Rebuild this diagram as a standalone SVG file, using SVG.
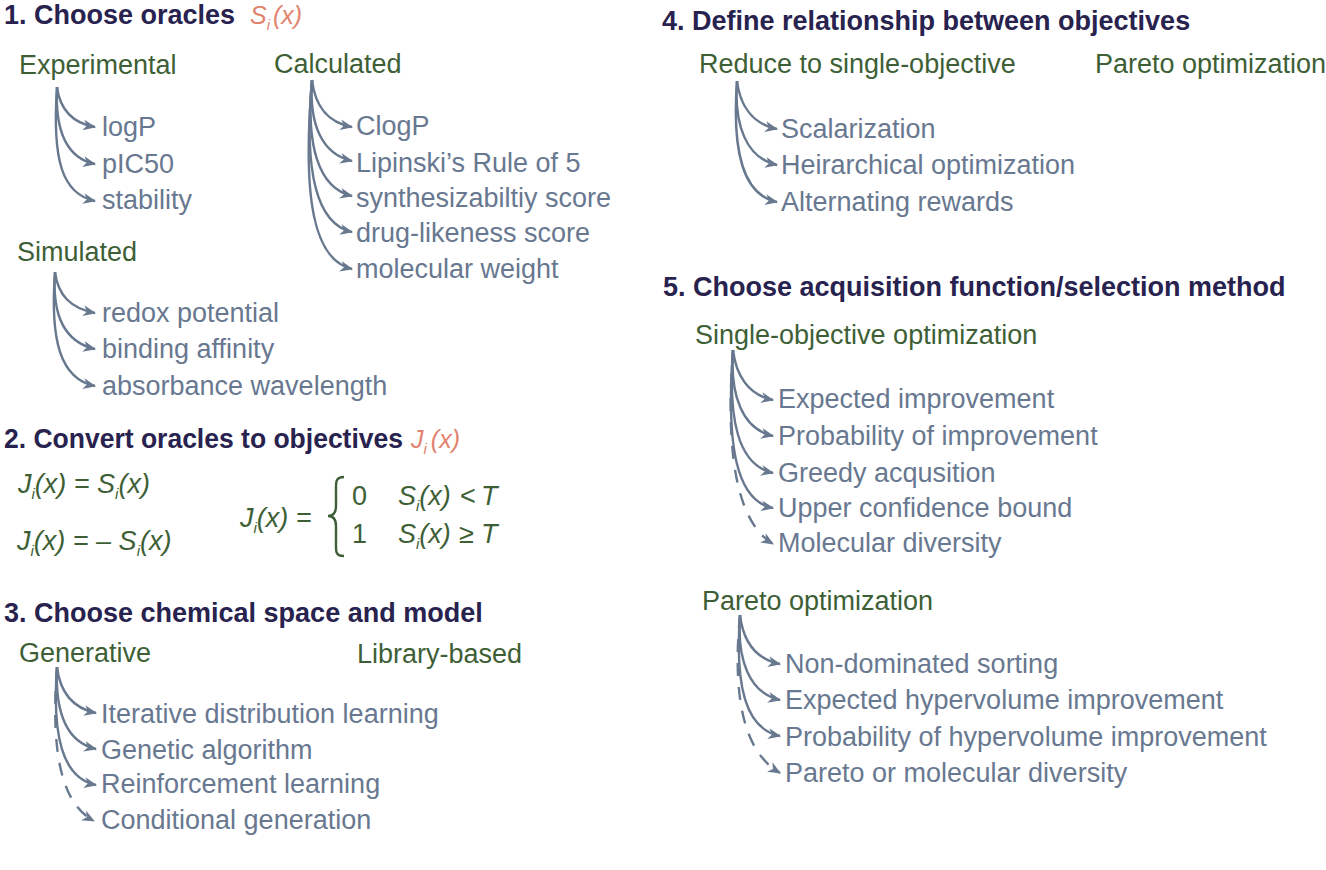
<svg xmlns="http://www.w3.org/2000/svg" width="1326" height="870" viewBox="0 0 1326 870">
<style>
text{font-family:"Liberation Sans",Arial,sans-serif;}
.h{font-size:27px;font-weight:bold;fill:#28224f;}
.g{font-size:27px;fill:#3e5f36;}
.it{font-size:27px;fill:#687890;}
.o{font-size:25px;font-style:italic;fill:#e2836e;}
.f{font-size:27px;font-style:italic;fill:#3e5f36;}
.fu{font-size:27px;fill:#3e5f36;}
.sub{font-size:15px;}
.c{fill:none;stroke:#68788f;stroke-width:2.4;marker-end:url(#ah);}
.d{stroke-dasharray:13 11;}
</style>
<defs>
<marker id="ah" viewBox="0 0 12 10" refX="11" refY="5" markerWidth="13" markerHeight="11" markerUnits="userSpaceOnUse" orient="auto">
<path d="M0,0 L12,5 L0,10 L3.5,5 Z" fill="#68788f"/>
</marker>
</defs>
<rect width="1326" height="870" fill="#ffffff"/>

<g id="sec1">
<text class="h" x="4" y="24">1. Choose oracles</text>
<text class="o" x="250" y="24">S<tspan class="sub" dy="6">i</tspan><tspan dy="-6" dx="3">(x)</tspan></text>
</g>
<g id="experimental">
<text class="g" x="19" y="74">Experimental</text>
<text class="it" x="102" y="136">logP</text>
<text class="it" x="102" y="173">pIC50</text>
<text class="it" x="102" y="209">stability</text>
</g>
<g id="calculated">
<text class="g" x="274" y="73">Calculated</text>
<text class="it" x="356" y="135">ClogP</text>
<text class="it" x="356" y="172">Lipinski’s Rule of 5</text>
<text class="it" x="356" y="207">synthesizabiltiy score</text>
<text class="it" x="356" y="242">drug-likeness score</text>
<text class="it" x="356" y="278">molecular weight</text>
</g>
<g id="simulated">
<text class="g" x="17" y="261">Simulated</text>
<text class="it" x="102" y="322">redox potential</text>
<text class="it" x="102" y="358">binding affinity</text>
<text class="it" x="102" y="395">absorbance wavelength</text>
</g>

<g id="sec2">
<text class="h" x="4" y="448" textLength="399" lengthAdjust="spacingAndGlyphs">2. Convert oracles to objectives</text>
<text class="o" x="411" y="448">J<tspan class="sub" dy="6">i</tspan><tspan dy="-6" dx="4">(x)</tspan></text>
</g>
<g id="formulas">
<text class="f" x="18" y="493">J<tspan class="sub" dy="6">i</tspan><tspan dy="-6">(x) = S</tspan><tspan class="sub" dy="6">i</tspan><tspan dy="-6">(x)</tspan></text>
<text class="f" x="17" y="550">J<tspan class="sub" dy="6">i</tspan><tspan dy="-6">(x) = – S</tspan><tspan class="sub" dy="6">i</tspan><tspan dy="-6">(x)</tspan></text>
<text class="f" x="240" y="527">J<tspan class="sub" dy="6">i</tspan><tspan dy="-6">(x) =</tspan></text>
<path d="M344,477 C335,477 336,483 336,491 L336,506 C336,512 334,516 328,516 C334,516 336,520 336,526 L336,543 C336,551 335,556 344,556" fill="none" stroke="#3e5f36" stroke-width="2.4"/>
<text class="fu" x="352" y="505">0</text>
<text class="f" x="398" y="505">S<tspan class="sub" dy="6">i</tspan><tspan dy="-6">(x)</tspan></text>
<text class="fu" x="460" y="505">&lt;</text>
<text class="f" x="481" y="505">T</text>
<text class="fu" x="352" y="543">1</text>
<text class="f" x="398" y="543">S<tspan class="sub" dy="6">i</tspan><tspan dy="-6">(x)</tspan></text>
<text class="fu" x="459" y="543">≥</text>
<text class="f" x="481" y="543">T</text>
</g>

<g id="sec3">
<text class="h" x="4" y="622">3. Choose chemical space and model</text>
</g>
<g id="generative">
<text class="g" x="19" y="662">Generative</text>
<text class="it" x="101" y="723">Iterative distribution learning</text>
<text class="it" x="101" y="759">Genetic algorithm</text>
<text class="it" x="101" y="793">Reinforcement learning</text>
<text class="it" x="101" y="829">Conditional generation</text>
</g>
<g id="library">
<text class="g" x="357" y="663">Library-based</text>
</g>

<g id="sec4">
<text class="h" x="662" y="30">4. Define relationship between objectives</text>
</g>
<g id="reduce">
<text class="g" x="699" y="73">Reduce to single-objective</text>
<text class="it" x="781" y="138">Scalarization</text>
<text class="it" x="781" y="174">Heirarchical optimization</text>
<text class="it" x="781" y="211">Alternating rewards</text>
</g>
<g id="pareto4">
<text class="g" x="1095" y="73">Pareto optimization</text>
</g>

<g id="sec5">
<text class="h" x="663" y="296">5. Choose acquisition function/selection method</text>
</g>
<g id="single">
<text class="g" x="695" y="344">Single-objective optimization</text>
<text class="it" x="778" y="408">Expected improvement</text>
<text class="it" x="778" y="445">Probability of improvement</text>
<text class="it" x="778" y="482">Greedy acqusition</text>
<text class="it" x="778" y="517">Upper confidence bound</text>
<text class="it" x="778" y="552">Molecular diversity</text>
</g>
<g id="pareto5">
<text class="g" x="702" y="610">Pareto optimization</text>
<text class="it" x="785" y="673">Non-dominated sorting</text>
<text class="it" x="785" y="709">Expected hypervolume improvement</text>
<text class="it" x="785" y="746">Probability of hypervolume improvement</text>
<text class="it" x="785" y="782">Pareto or molecular diversity</text>
</g>

<g id="connectors">
<path class="c" d="M57,87 C60,110 72,123 95,127"/>
<path class="c" d="M57,87 C55,130 66,158 95,164"/>
<path class="c" d="M57,87 C52,160 62,194 95,201"/>

<path class="c" d="M312,80 C315,105 326,122 352,127"/>
<path class="c" d="M312,80 C309,125 322,154 352,161"/>
<path class="c" d="M312,80 C306,145 318,188 352,196"/>
<path class="c" d="M312,80 C304,170 316,224 352,232"/>
<path class="c" d="M312,80 C302,200 314,260 352,269"/>

<path class="c" d="M55,272 C58,295 70,308 95,313"/>
<path class="c" d="M55,272 C52,315 64,342 95,349"/>
<path class="c" d="M55,272 C50,340 60,379 95,386"/>

<path class="c" d="M57,667 C60,692 72,708 96,713"/>
<path class="c" d="M57,667 C55,712 66,742 96,749"/>
<path class="c" d="M57,667 C52,735 62,778 96,785"/>
<path class="c d" d="M57,667 C50,760 64,805 94,821"/>

<path class="c" d="M737,81 C740,105 752,124 777,129"/>
<path class="c" d="M737,81 C734,125 746,158 777,165"/>
<path class="c" d="M737,81 C732,150 742,195 777,202"/>

<path class="c" d="M733,350 C736,375 748,395 773,400"/>
<path class="c" d="M733,350 C730,395 742,429 773,436"/>
<path class="c" d="M733,350 C728,420 738,465 773,473"/>
<path class="c" d="M733,350 C726,445 736,501 773,508"/>
<path class="c d" d="M733,350 C724,470 742,525 773,544"/>

<path class="c" d="M740,615 C743,640 755,659 780,664"/>
<path class="c" d="M740,615 C737,660 749,693 780,700"/>
<path class="c" d="M740,615 C735,685 745,729 780,736"/>
<path class="c d" d="M740,615 C731,710 749,755 780,773"/>
</g>
</svg>
